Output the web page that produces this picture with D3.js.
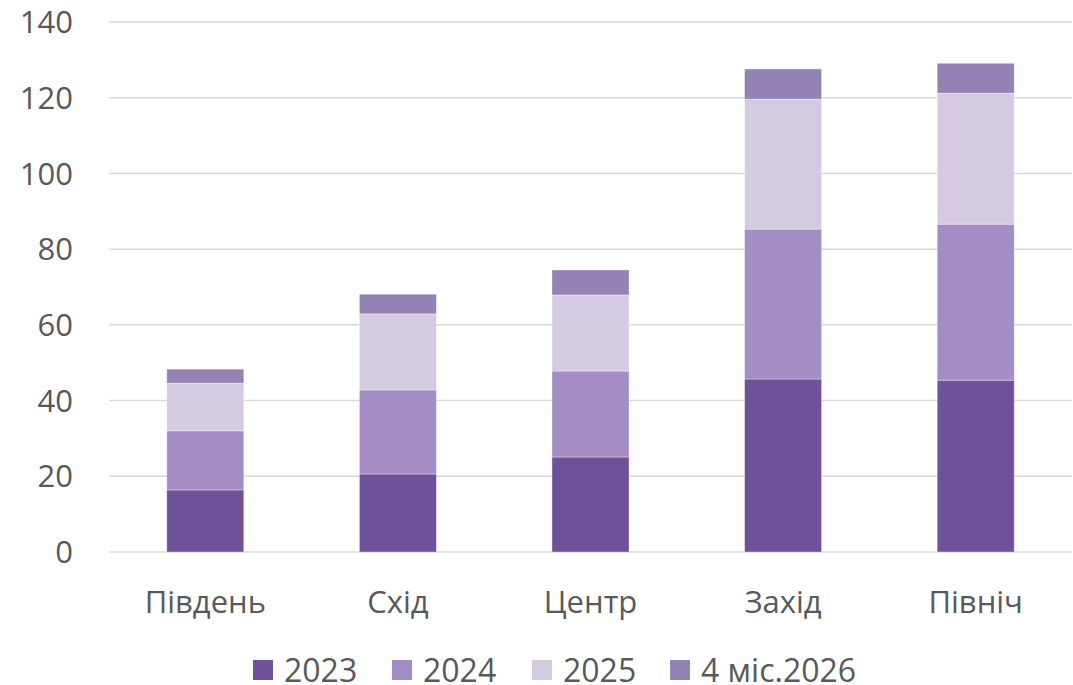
<!DOCTYPE html>
<html>
<head>
<meta charset="utf-8">
<script src="https://cdn.jsdelivr.net/npm/d3@7"></script>
<style>
  body { margin: 0; background: #fff; }
  text { font-family: "Open Sans", "Noto Sans", sans-serif; fill: #595959; }
</style>
</head>
<body>
<div id="chart"></div>
<script>
const width = 1073;
const height = 685;

const regions = ["Південь", "Схід", "Центр", "Захід", "Північ"];
const seriesNames = ["2023", "2024", "2025", "4 міс.2026"];
const v2023 = [16.4, 20.6, 25.1, 45.7, 45.4];
const v2024 = [15.6, 22.2, 22.7, 39.6, 41.2];
const v2025 = [12.6, 20.1, 20.1, 34.3, 34.6];
const v2026 = [3.7, 5.2, 6.6, 8.0, 7.9];
const yTicks = [0, 20, 40, 60, 80, 100, 120, 140];
const colors = ["#6f5199", "#a48dc4", "#d4cbe3", "#9383b5"];

const rows = regions.map((r, i) => ({
    region: r,
    "2023": v2023[i],
    "2024": v2024[i],
    "2025": v2025[i],
    "4 міс.2026": v2026[i]
}));

const svg = d3.select("#chart")
    .append("svg")
    .attr("width", width)
    .attr("height", height);

const x = d3.scaleBand()
    .domain(regions)
    .range([109, 1072])
    .paddingInner(0.6)
    .paddingOuter(0.3);

const y = d3.scaleLinear()
    .domain([0, 140])
    .range([552, 22]);

// Сітка
svg.append("g")
    .selectAll("line")
    .data(yTicks)
    .join("line")
    .attr("x1", 109)
    .attr("x2", 1072)
    .attr("y1", d => y(d))
    .attr("y2", d => y(d))
    .attr("stroke", "#d9d9d9")
    .attr("stroke-width", 1.5);

// Підписи осі Y
svg.append("g")
    .selectAll("text")
    .data(yTicks)
    .join("text")
    .attr("x", 73)
    .attr("y", d => y(d))
    .attr("dy", "0.36em")
    .attr("text-anchor", "end")
    .attr("font-size", 31)
    .text(d => d);

const stack = d3.stack().keys(seriesNames);
const layers = stack(rows);

svg.append("g")
    .selectAll("g")
    .data(layers)
    .join("g")
    .attr("fill", (d, i) => colors[i])
    .selectAll("rect")
    .data(d => d)
    .join("rect")
    .attr("x", d => x(d.data.region))
    .attr("width", x.bandwidth())
    .attr("y", d => y(d[1]))
    .attr("height", d => y(d[0]) - y(d[1]))
    .attr("stroke", "rgba(255,255,255,0.5)")
    .attr("stroke-width", 0.75);

// Підписи категорій
svg.append("g")
    .selectAll("text")
    .data(regions)
    .join("text")
    .attr("x", d => x(d) + x.bandwidth() / 2)
    .attr("y", 613)
    .attr("text-anchor", "middle")
    .attr("font-size", 31)
    .text(d => d);

// Легенда
const legendX = [253, 392, 532, 670];
const legend = svg.append("g")
    .selectAll("g")
    .data(seriesNames)
    .join("g")
    .attr("transform", (d, i) => `translate(${legendX[i]},660)`);

legend.append("rect")
    .attr("width", 20)
    .attr("height", 20)
    .attr("fill", (d, i) => colors[i]);

legend.append("text")
    .attr("x", 31)
    .attr("y", 10)
    .attr("dy", "0.36em")
    .attr("font-size", 32)
    .text(d => d);
</script>
</body>
</html>
